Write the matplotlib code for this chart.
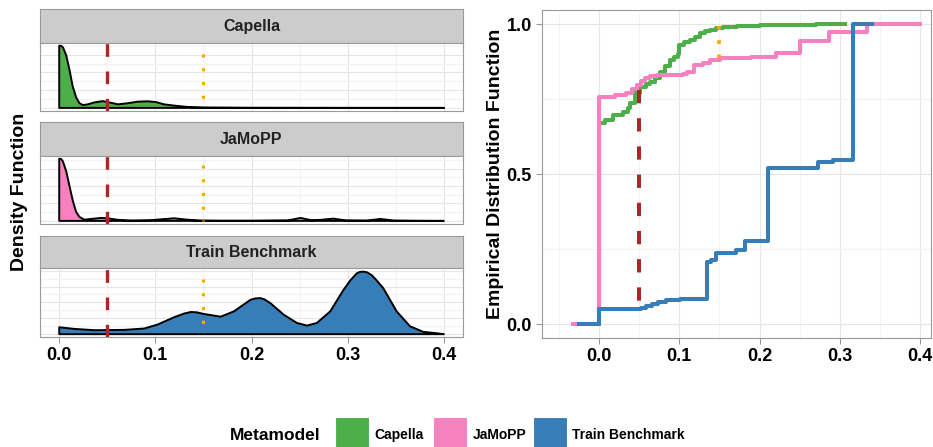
import numpy as np
import matplotlib
matplotlib.use('Agg')
import matplotlib.pyplot as plt
from matplotlib.ticker import MultipleLocator
from matplotlib.patches import Rectangle

plt.rcParams['font.family'] = ['Liberation Sans', 'DejaVu Sans']
plt.rcParams['font.weight'] = 'bold'

W, H = 933, 447

metamodels = ['Capella', 'JaMoPP', 'Train Benchmark']
colors = ['#4DAF4A', '#F781BF', '#377EB8']

# density curves (arbitrary y units per panel)
capella_dx = [0.0, 0.002, 0.004, 0.0073, 0.0107, 0.014, 0.0176, 0.021, 0.0245, 0.0297, 0.0366,
              0.0453, 0.052, 0.061, 0.071, 0.0816, 0.092, 0.1005, 0.109, 0.1195, 0.133, 0.151,
              0.2, 0.3, 0.4]
capella_dy = [35.0, 35.0, 34.0, 29.6, 21.4, 12.2, 5.9, 2.7, 1.6, 2.0, 3.1,
              3.8, 3.1, 2.0, 2.6, 3.5, 3.7, 3.3, 2.0, 1.3, 0.55, 0.2,
              0.05, 0.0, 0.0]

jamopp_dx = [0.0, 0.002, 0.0038, 0.0073, 0.0107, 0.0142, 0.0176, 0.021, 0.026, 0.033, 0.0435,
             0.0505, 0.061, 0.075, 0.095, 0.106, 0.1195, 0.133, 0.147, 0.17, 0.2, 0.238,
             0.251, 0.262, 0.272, 0.285, 0.298, 0.32, 0.334, 0.348, 0.37, 0.4]
jamopp_dy = [35.6, 35.5, 34.1, 28.4, 19.9, 11.4, 5.1, 2.3, 0.7, 1.1, 1.7,
             1.5, 0.6, 0.2, 0.4, 0.9, 1.5, 0.7, 0.2, 0.1, 0.1, 0.3,
             1.7, 0.4, 0.6, 1.3, 0.3, 0.2, 1.1, 0.2, 0.05, 0.0]

train_dx = [0.0, 0.0159, 0.0366, 0.0677, 0.0884, 0.1023, 0.1195, 0.130, 0.1368, 0.143, 0.1506,
            0.1679, 0.1817, 0.199, 0.204, 0.2093, 0.214, 0.2197, 0.2335, 0.2473, 0.2577, 0.268,
            0.2819, 0.2957, 0.303, 0.3095, 0.313, 0.3164, 0.320, 0.3248, 0.330, 0.3371, 0.351,
            0.3648, 0.3786, 0.3925, 0.4]
train_dy = [0.87, 0.66, 0.5, 0.54, 0.71, 1.21, 2.13, 2.6, 2.79, 2.75, 2.54,
            2.2, 2.87, 4.33, 4.5, 4.54, 4.35, 3.9, 2.45, 1.41, 1.08, 1.41,
            2.87, 5.58, 6.8, 7.66, 7.85, 7.87, 7.8, 7.45, 6.8, 5.79, 2.87,
            1.0, 0.29, 0.12, 0.0]

dens_x = [capella_dx, jamopp_dx, train_dx]
dens_y = [capella_dy, jamopp_dy, train_dy]
dens_top = [35.0, 35.6, 7.9]
dens_step = [5, 5, 1]
dot_top = [30.5, 31.8, 7.0]

# empirical CDF steps: x of jump, value after jump
capella_ex = [0.0, 0.0, 0.008, 0.018, 0.03, 0.036, 0.039, 0.045, 0.051, 0.058, 0.064, 0.070, 0.076,
              0.082, 0.088, 0.094, 0.099, 0.100, 0.106, 0.113, 0.120, 0.126, 0.132, 0.138,
              0.146, 0.155, 0.172, 0.20, 0.234, 0.27, 0.307]
capella_ey = [0.0, 0.672, 0.68, 0.697, 0.708, 0.72, 0.736, 0.769, 0.791, 0.80, 0.808, 0.82, 0.841,
              0.86, 0.88, 0.89, 0.902, 0.93, 0.94, 0.947, 0.958, 0.969, 0.976, 0.982,
              0.987, 0.991, 0.994, 0.996, 0.997, 0.999, 1.0]

jamopp_ex = [-0.033, 0.0, 0.02, 0.034, 0.041, 0.047, 0.052, 0.057, 0.064, 0.072, 0.105, 0.110,
             0.118, 0.13, 0.138, 0.151, 0.19, 0.221, 0.250, 0.286, 0.334, 0.400]
jamopp_ey = [0.0, 0.758, 0.764, 0.771, 0.783, 0.797, 0.81, 0.822, 0.828, 0.83, 0.835, 0.84,
             0.863, 0.871, 0.88, 0.888, 0.891, 0.904, 0.944, 0.974, 1.0, 1.0]

train_ex = [-0.025, 0.0, 0.052, 0.058, 0.066, 0.074, 0.084, 0.101, 0.134, 0.140, 0.146, 0.171,
            0.182, 0.211, 0.273, 0.292, 0.317, 0.340]
train_ey = [0.0, 0.049, 0.053, 0.060, 0.067, 0.074, 0.080, 0.084, 0.207, 0.213, 0.238, 0.247,
            0.277, 0.519, 0.541, 0.547, 1.0, 1.0]

ecdf_x = [capella_ex, jamopp_ex, train_ex]
ecdf_y = [capella_ey, jamopp_ey, train_ey]

# reference lines
red_x = 0.05
red_seg = [0.78, 0.069]
orange_x = 0.15
orange_seg = [0.995, 0.888]

grid_major = '#E6E6E6'
grid_minor = '#F3F3F3'
frame = '#9A9A9A'
red = '#A82828'
orange = '#FFA500'


def box(x0, y0, x1, y1):
    return [x0 / W, 1 - y1 / H, (x1 - x0) / W, (y1 - y0) / H]


fig = plt.figure(figsize=(W / 100, H / 100), dpi=100)

strips = [(9.3, 42.7, 111.0), (122.3, 155.7, 224.0), (236.0, 268.3, 337.3)]
for i, (s0, p0, p1) in enumerate(strips):
    sax = fig.add_axes(box(40, s0, 463, p0))
    sax.set_facecolor('#CCCCCC')
    sax.set_xticks([])
    sax.set_yticks([])
    for sp in sax.spines.values():
        sp.set_color(frame)
        sp.set_linewidth(0.8)
    sax.text(0.5, 0.5, metamodels[i], ha='center', va='center', fontsize=11.5,
             fontweight='bold', color='#222222', transform=sax.transAxes)

    ax = fig.add_axes(box(40, p0, 463, p1))
    x = np.array(dens_x[i])
    y = np.array(dens_y[i])
    ax.fill(np.r_[x[0], x, x[-1]], np.r_[0, y, 0], facecolor=colors[i],
            edgecolor='black', linewidth=1.4, joinstyle='round', zorder=3)
    ax.axvline(red_x, color=red, linewidth=2.4, linestyle=(0, (3.8, 4.4)), zorder=4)
    # drawn top-down so the first dot sits at the top
    ax.plot([orange_x, orange_x], [dot_top[i], 0], color=orange, linewidth=2.2,
            linestyle=(0, (1, 3.5)), dash_capstyle='butt', zorder=4)
    ax.set_xlim(-0.02, 0.42)
    ax.set_ylim(-0.05 * dens_top[i], 1.05 * dens_top[i])
    ax.xaxis.set_major_locator(MultipleLocator(0.1))
    ax.xaxis.set_minor_locator(MultipleLocator(0.05))
    ax.yaxis.set_major_locator(MultipleLocator(2 * dens_step[i]))
    ax.yaxis.set_minor_locator(MultipleLocator(dens_step[i]))
    ax.grid(which='major', color=grid_major, linewidth=0.8, zorder=0)
    ax.grid(which='minor', color=grid_minor, linewidth=0.8, zorder=0)
    ax.set_axisbelow(True)
    ax.tick_params(axis='y', which='both', left=False, labelleft=False)
    ax.tick_params(axis='x', which='minor', bottom=False)
    if i < 2:
        ax.tick_params(axis='x', which='major', bottom=False, labelbottom=False)
    else:
        ax.tick_params(axis='x', which='major', color=frame, length=4, labelsize=13, pad=3)
        ax.set_xticks([0.0, 0.1, 0.2, 0.3, 0.4])
        ax.set_xticklabels(['0.0', '0.1', '0.2', '0.3', '0.4'], fontweight='bold')
    for sp in ax.spines.values():
        sp.set_color(frame)
        sp.set_linewidth(0.8)

fig.text(20 / W, 1 - 192 / H, 'Density Function', rotation=90, ha='center', va='center',
         fontsize=14, fontweight='bold')

# right panel
ax2 = fig.add_axes(box(541.7, 10, 931, 338.3))
for i in range(3):
    ax2.step(ecdf_x[i], ecdf_y[i], where='post', color=colors[i], linewidth=2.9, zorder=3 + i)
ax2.plot([red_x, red_x], red_seg, color=red, linewidth=2.9, linestyle=(0, (3.3, 3.7)),
         zorder=7)
ax2.plot([orange_x, orange_x], orange_seg, color=orange, linewidth=2.7,
         linestyle=(0, (1, 2.8)), dash_capstyle='butt', zorder=7)
ax2.set_xlim(-0.0714, 0.4137)
ax2.set_ylim(-0.047, 1.047)
ax2.xaxis.set_major_locator(MultipleLocator(0.1))
ax2.xaxis.set_minor_locator(MultipleLocator(0.05))
ax2.yaxis.set_major_locator(MultipleLocator(0.5))
ax2.yaxis.set_minor_locator(MultipleLocator(0.25))
ax2.grid(which='major', color=grid_major, linewidth=0.8, zorder=0)
ax2.grid(which='minor', color=grid_minor, linewidth=0.8, zorder=0)
ax2.set_axisbelow(True)
ax2.tick_params(which='minor', bottom=False, left=False)
ax2.tick_params(which='major', color=frame, length=4, labelsize=13, pad=3)
ax2.set_xticks([0.0, 0.1, 0.2, 0.3, 0.4])
ax2.set_xticklabels(['0.0', '0.1', '0.2', '0.3', '0.4'], fontweight='bold')
ax2.set_yticks([0.0, 0.5, 1.0])
ax2.set_yticklabels(['0.0', '0.5', '1.0'], fontweight='bold')
for sp in ax2.spines.values():
    sp.set_color(frame)
    sp.set_linewidth(0.8)
fig.text(495 / W, 1 - 174 / H, 'Empirical Distribution Function', rotation=90,
         ha='center', va='center', fontsize=14, fontweight='bold')

# legend
fig.text(230 / W, 1 - 435 / H, 'Metamodel', ha='left', va='center', fontsize=12.5,
         fontweight='bold')
key_x = [334.5, 432.5, 532.5]
for i in range(3):
    fig.patches.append(Rectangle((key_x[i] / W, 1 - 452 / H), 34 / W, 35 / H,
                                 transform=fig.transFigure, facecolor=colors[i],
                                 edgecolor='white', linewidth=0.8))
    fig.text((key_x[i] + 40) / W, 1 - 435 / H, metamodels[i], ha='left', va='center',
             fontsize=10, fontweight='bold')

fig.savefig('out.png', dpi=100)
